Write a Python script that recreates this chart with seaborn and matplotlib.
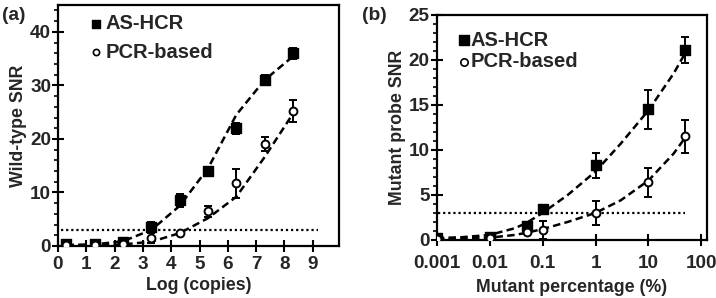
import numpy as np
import pandas as pd
import matplotlib
matplotlib.use("Agg")
import matplotlib.pyplot as plt
import matplotlib.ticker as mticker
import seaborn as sns

# ---------------- data: panel (a) ----------------
a_x = [0.3, 1.3, 2.3, 3.3, 4.3, 5.3, 6.3, 7.3, 8.3]
a_hcr_y = [0.3, 0.4, 0.8, 3.5, 8.5, 14.0, 22.0, 31.0, 36.0]
a_hcr_err = [0.3, 0.3, 0.3, 1.0, 1.2, 0.6, 1.0, 1.0, 1.0]
a_pcr_y = [0.1, 0.2, 0.3, 1.5, 2.4, 6.5, 11.7, 19.0, 25.2]
a_pcr_err = [0.2, 0.2, 0.2, 1.0, 0.3, 1.0, 2.7, 1.3, 2.0]
a_hcr_fit = [0.2, 0.3, 0.9, 3.0, 7.5, 14.5, 24.5, 31.0, 35.4]
a_pcr_fit = [0.05, 0.1, 0.3, 0.8, 2.4, 5.2, 9.2, 16.6, 24.7]
a_xticks = [0, 1, 2, 3, 4, 5, 6, 7, 8, 9]
a_yticks = [0, 10, 20, 30, 40]

# ---------------- data: panel (b) ----------------
b_x = [0.001, 0.01, 0.05, 0.1, 1, 10, 50]
b_hcr_y = [0.2, 0.3, 1.5, 3.4, 8.3, 14.5, 21.1]
b_hcr_err = [0.15, 0.15, 0.3, 0.4, 1.4, 2.2, 1.45]
b_pcr_y = [0.1, 0.2, 0.9, 1.1, 3.0, 6.4, 11.5]
b_pcr_err = [0.1, 0.1, 0.2, 1.0, 1.3, 1.6, 1.85]
b_fit_x = [0.001, 0.003, 0.01, 0.03, 0.05, 0.1, 0.3, 1, 3, 10, 30, 50]
b_hcr_fit = [0.2, 0.3, 0.55, 1.3, 1.9, 3.0, 5.0, 7.6, 10.7, 14.4, 18.5, 20.8]
b_pcr_fit = [0.1, 0.15, 0.25, 0.55, 0.8, 1.2, 2.0, 3.0, 4.4, 6.6, 9.6, 11.4]
b_xticks = [0.001, 0.01, 0.1, 1, 10, 100]
b_xticklabels = ["0.001", "0.01", "0.1", "1", "10", "100"]
b_yticks = [0, 5, 10, 15, 20, 25]

threshold = 3
series_names = ["AS-HCR", "PCR-based"]

sns.set_style("ticks")
plt.rcParams["font.family"] = ["Liberation Sans", "DejaVu Sans"]
plt.rcParams["font.weight"] = "bold"
plt.rcParams["axes.labelweight"] = "bold"

fig = plt.figure(figsize=(7.16, 2.98), dpi=100)
axA = fig.add_axes([0.081, 0.1745, 0.3925, 0.8085])
axB = fig.add_axes([0.610, 0.195, 0.377, 0.755])

FS = 12.8
TFS = 13.6
LFS = 14.5


def draw(ax, x, hy, he, py, pe, fx_h, fh, fx_p, fp):
    # fitted dashed curves
    sns.lineplot(x=fx_h, y=fh, ax=ax, color="black", lw=1.8,
                 linestyle=(0, (3.0, 1.7)), zorder=2, estimator=None, sort=False)
    sns.lineplot(x=fx_p, y=fp, ax=ax, color="black", lw=1.8,
                 linestyle=(0, (3.0, 1.7)), zorder=2, estimator=None, sort=False)
    ax.errorbar(x, hy, yerr=he, fmt="none", ecolor="black", elinewidth=1.4,
                capsize=3, capthick=1.4, zorder=3)
    ax.errorbar(x, py, yerr=pe, fmt="none", ecolor="black", elinewidth=1.4,
                capsize=3, capthick=1.4, zorder=3)
    sns.scatterplot(x=x, y=hy, ax=ax, marker="s", s=45, color="black",
                    edgecolor="black", linewidth=1, zorder=4)
    sns.scatterplot(x=x, y=py, ax=ax, marker="o", s=32, facecolor="white",
                    edgecolor="black", linewidth=1.4, zorder=4)


# ---------------- panel (a) ----------------
draw(axA, a_x, a_hcr_y, a_hcr_err, a_pcr_y, a_pcr_err,
     a_x, a_hcr_fit, a_x, a_pcr_fit)
axA.hlines(threshold, 0.1, 9.2, colors="black", linestyles=(0, (1, 1.3)), lw=1.6, zorder=1)
axA.set_xlim(0, 9.93)
axA.set_ylim(0, 45)
axA.set_xticks(a_xticks)
axA.set_yticks(a_yticks)
axA.yaxis.set_minor_locator(mticker.MultipleLocator(2))
axA.set_xlabel("Log (copies)", fontsize=FS, fontweight="bold", labelpad=3)
axA.set_ylabel("Wild-type SNR", fontsize=FS, fontweight="bold", labelpad=2)
axA.scatter([1.36], [41.5], marker="s", s=30, color="black", zorder=5)
axA.scatter([1.36], [36.2], marker="o", s=20, facecolor="white", edgecolor="black", lw=1.2, zorder=5)
axA.text(1.68, 41.5, series_names[0], fontsize=LFS, fontweight="bold", va="center")
axA.text(1.68, 36.2, series_names[1], fontsize=LFS, fontweight="bold", va="center")

# ---------------- panel (b) ----------------
draw(axB, b_x, b_hcr_y, b_hcr_err, b_pcr_y, b_pcr_err,
     b_fit_x, b_hcr_fit, b_fit_x, b_pcr_fit)
axB.hlines(threshold, 0.00105, 50, colors="black", linestyles=(0, (1, 1.3)), lw=1.6, zorder=1)
axB.set_xscale("log")
axB.set_xlim(0.001, 126)
axB.set_ylim(0, 25)
axB.set_xticks(b_xticks)
axB.set_xticklabels(b_xticklabels)
axB.xaxis.set_minor_locator(mticker.LogLocator(base=10, subs=np.arange(2, 10)))
axB.xaxis.set_minor_formatter(mticker.NullFormatter())
axB.set_yticks(b_yticks)
axB.yaxis.set_minor_locator(mticker.MultipleLocator(1))
axB.set_xlabel("Mutant percentage (%)", fontsize=FS, fontweight="bold", labelpad=5)
axB.set_ylabel("Mutant probe SNR", fontsize=FS, fontweight="bold", labelpad=2)
axB.scatter([0.0033], [22.2], marker="s", s=45, color="black", zorder=5)
axB.scatter([0.0033], [19.8], marker="o", s=28, facecolor="white", edgecolor="black", lw=1.2, zorder=5)
axB.text(0.0044, 22.2, series_names[0], fontsize=LFS, fontweight="bold", va="center")
axB.text(0.0044, 19.8, series_names[1], fontsize=LFS, fontweight="bold", va="center")

for ax in (axA, axB):
    for sp in ax.spines.values():
        sp.set_linewidth(1.6)
        sp.set_color("black")
    ax.tick_params(axis="both", which="major", direction="inout", length=8,
                   width=1.5, labelsize=TFS, color="black", pad=1)
    ax.tick_params(axis="both", which="minor", direction="out", length=3,
                   width=1.2, color="black")
    for lab in ax.get_xticklabels() + ax.get_yticklabels():
        lab.set_fontweight("bold")

axA.tick_params(axis="x", pad=3)
axB.tick_params(axis="x", pad=7)

fig.text(0.003, 0.975, "(a)", fontsize=FS + 1, fontweight="bold", va="top")
fig.text(0.505, 0.975, "(b)", fontsize=FS + 1, fontweight="bold", va="top")

fig.savefig("out.png", dpi=100)
